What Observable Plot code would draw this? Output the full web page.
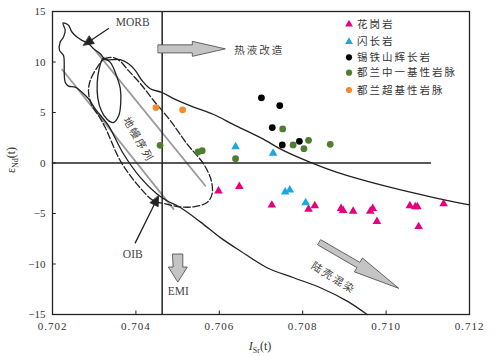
<!DOCTYPE html>
<html><head><meta charset="utf-8">
<script src="https://cdn.jsdelivr.net/npm/d3@7"></script>
<script src="https://cdn.jsdelivr.net/npm/@observablehq/plot@0.6"></script>
<style>
body{margin:0;background:#fff;}
#chart{width:497px;height:357px;}
g[aria-label="x-axis tick label"] text{letter-spacing:1px;}
</style></head><body><div id="chart"></div>
<script>
// ---- axis ticks
const xTicks = [0.702, 0.704, 0.706, 0.708, 0.710, 0.712];
const yTicks = [-15, -10, -5, 0, 5, 10, 15];

// ---- sample data (I_Sr(t), eps_Nd(t))
const graniteX = [0.70598,0.70648,0.70726,0.70814,0.70829,0.70892,0.70897,0.70921,0.70962,0.70968,0.70978,0.71057,0.71070,0.71075,0.71078,0.71138];
const graniteY = [-2.78,-2.32,-4.17,-4.57,-4.24,-4.50,-4.70,-4.77,-4.77,-4.50,-5.80,-4.24,-4.34,-4.34,-6.30,-4.04];
const dioriteX = [0.70639,0.70729,0.70758,0.70769,0.70807];
const dioriteY = [1.62,0.96,-2.88,-2.68,-3.94];
const gabbroX = [0.70701,0.70745,0.70727,0.70751,0.70792];
const gabbroY = [6.45,5.69,3.51,1.79,2.15];
const dykeX = [0.70458,0.70549,0.70559,0.70639,0.70752,0.70777,0.70803,0.70814,0.70866];
const dykeY = [1.75,1.09,1.22,0.43,3.37,1.79,1.42,2.25,1.85];
const ultraX = [0.70448,0.70512];
const ultraY = [5.49,5.26];

// ---- legend
const legendLabels = ["花岗岩","闪长岩","锡铁山辉长岩","都兰中一基性岩脉","都兰超基性岩脉"];
const legendColors = ["#e4007f","#1ea6e0","#000000","#4e7d33","#f28a2e"];
const legendSymbols = ["triangle","triangle","circle","circle","circle"];

// ---- reference fields (data units)
const envelope = [
  [0.709546,-15.0],[0.709066,-13.67],[0.708425,-12.35],[0.707784,-11.36],[0.707146,-10.37],
  [0.706505,-8.71],[0.706025,-7.39],[0.705545,-5.83],[0.705065,-4.41],[0.704746,-3.74],
  [0.704506,-3.08],[0.704105,-1.43],[0.703704,0.89],[0.703344,3.70],[0.703186,4.53],
  [0.703025,5.36],[0.702864,6.36],[0.702706,7.01],[0.702545,7.51],[0.702384,7.61],[0.702305,8.00],
  [0.702281,9.00],[0.702281,9.66],[0.702264,10.65],[0.702168,11.15],[0.702185,11.98],
  [0.702264,12.47],[0.702305,13.14],[0.702250,13.86],
  [0.702384,13.63],[0.702466,12.97],[0.702586,12.47],[0.702706,12.14],[0.702864,11.82],
  [0.702984,11.32],[0.703145,10.82],[0.703265,10.23],
  [0.703426,10.23],[0.703625,10.23],[0.703824,9.83],[0.703985,9.17],[0.704146,8.17],
  [0.704345,7.35],[0.704626,6.98],[0.704904,6.38],[0.705384,5.54],[0.705864,4.80],
  [0.706344,3.80],[0.706985,2.51],[0.707544,1.22],[0.708185,0.06],[0.708826,-0.93],
  [0.709944,-2.25],[0.711144,-3.42],[0.712000,-4.14]
];
const ellipse = [
  [0.703217,10.36],[0.703385,9.96],[0.703505,8.97],[0.703625,7.38],[0.703637,5.99],
  [0.703589,4.70],[0.703457,4.00],[0.703313,4.30],[0.703169,5.19],[0.703085,6.48],
  [0.703073,7.97],[0.703121,9.36]
];
const mantleLoop = [
  [0.703104,9.66],[0.703241,10.31],[0.703433,10.46],[0.703601,10.16],[0.703817,9.17],
  [0.704105,7.87],[0.704424,6.19],[0.704825,4.20],[0.705226,1.89],[0.705624,-0.10],
  [0.705809,-1.76],[0.705826,-3.08],[0.705706,-3.91],[0.705384,-4.34],[0.705065,-4.34],
  [0.704705,-4.04],[0.704424,-3.74],[0.704026,-2.09],[0.703625,0.23],[0.703265,3.51],
  [0.703104,4.70],[0.702946,5.69],[0.702864,7.01],[0.702905,8.17]
];
const grayLineA = [[0.702233,9.26],[0.704904,-4.57]];
const grayLineB = [[0.703025,11.15],[0.705665,-2.25]];
const bseX = 0.70463;
const zeroLine = [[0.702,0],[0.711065,0]];

// ---- arrows
const morbShaft = [[0.703344,13.31],[0.702943,12.20]];
const morbHead = [[0.702744,11.65],[0.703003,11.83],[0.702883,12.57]];
const oibShaft = [[0.703985,-7.91],[0.704438,-4.14]];
const oibHead = [[0.704544,-3.25],[0.704534,-4.33],[0.704342,-3.94]];
const emiArrow = [[0.704885,-9.01],[0.705125,-9.01],[0.705125,-10.30],[0.705233,-10.30],[0.705005,-11.79],[0.704777,-10.30],[0.704885,-10.30]];
const hydroArrow = [[0.704537,11.70],[0.705353,11.70],[0.705353,12.05],[0.706145,11.30],[0.705353,10.56],[0.705353,10.90],[0.704537,10.90]];
const crustArrow = [[0.708437,-7.61],[0.709373,-9.84],[0.709433,-9.41],[0.710304,-12.41],[0.709241,-10.78],[0.709301,-10.36],[0.708365,-8.12]];

const pts = (xs, ys) => xs.map((x, i) => ({x, y: ys[i]}));
const P = {x: d => d[0], y: d => d[1]};
const serif = "'Liberation Serif','Times New Roman',serif";
const cjk = "'Noto Sans CJK SC',sans-serif";

const chart = Plot.plot({
  width: 497, height: 357,
  marginLeft: 52, marginRight: 28, marginTop: 11, marginBottom: 43,
  style: {fontFamily: serif, fontSize: "11px", color: "#333", background: "#fff"},
  x: {domain: [0.702, 0.712]},
  y: {domain: [-15, 15]},
  marks: [
    Plot.axisX({ticks: xTicks, tickSize: 0, tickPadding: 8, tickFormat: d3.format(".3f"), label: null}),
    Plot.axisY({ticks: yTicks, tickSize: 0, tickPadding: 7, label: null}),
    Plot.ruleX(xTicks, {y1: -15, y2: -14.65, stroke: "#222"}),
    Plot.ruleY(yTicks, {x1: 0.702, x2: 0.70209, stroke: "#222"}),
    // fields
    Plot.line(grayLineA, {...P, stroke: "#9a9a9a", strokeWidth: 1.8}),
    Plot.line(grayLineB, {...P, stroke: "#9a9a9a", strokeWidth: 1.8}),
    Plot.line(mantleLoop, {...P, curve: "catmull-rom-closed", stroke: "#222", strokeWidth: 1.3, strokeDasharray: "7,2.5"}),
    Plot.line(ellipse, {...P, curve: "catmull-rom-closed", stroke: "#222", strokeWidth: 1.3}),
    Plot.line(envelope, {...P, curve: "catmull-rom", stroke: "#222", strokeWidth: 1.3}),
    Plot.ruleX([bseX], {stroke: "#222", strokeWidth: 1.5}),
    Plot.line(zeroLine, {...P, stroke: "#222", strokeWidth: 1.5}),
    // arrows
    Plot.line(morbShaft, {...P, stroke: "#222", strokeWidth: 1.3}),
    Plot.line(morbHead, {...P, curve: "linear-closed", fill: "#222", stroke: "#222", strokeWidth: 0.8}),
    Plot.line(oibShaft, {...P, stroke: "#222", strokeWidth: 1.3}),
    Plot.line(oibHead, {...P, curve: "linear-closed", fill: "#222", stroke: "#222", strokeWidth: 0.8}),
    Plot.line(emiArrow, {...P, curve: "linear-closed", fill: "#c4c4c4", stroke: "#444", strokeWidth: 0.8}),
    Plot.line(hydroArrow, {...P, curve: "linear-closed", fill: "#c4c4c4", stroke: "#444", strokeWidth: 0.8}),
    Plot.line(crustArrow, {...P, curve: "linear-closed", fill: "#c4c4c4", stroke: "#444", strokeWidth: 0.8}),
    // labels
    Plot.text(["MORB"], {x: 0.703925, y: 13.93, fontFamily: serif, fontSize: 11.5, fill: "#444"}),
    Plot.text(["OIB"], {x: 0.703925, y: -9.01, fontFamily: serif, fontSize: 11.5, fill: "#444"}),
    Plot.text(["EMI"], {x: 0.705017, y: -12.73, fontFamily: serif, fontSize: 11.5, fill: "#444"}),
    Plot.text(["热液改造"], {x: 0.706361, y: 11.15, textAnchor: "start", fontFamily: cjk, fontSize: 10.5, fill: "#444"}),
    Plot.text(["地幔序列"], {x: 0.704057, y: 2.31, rotate: 60, fontFamily: cjk, fontSize: 10.5, fill: "#444"}),
    Plot.text(["陆壳混染"], {x: 0.708737, y: -11.39, rotate: 32, fontFamily: cjk, fontSize: 10.5, fill: "#444"}),
    // samples
    Plot.dot(pts(graniteX, graniteY), {x: "x", y: "y", symbol: "triangle", r: 3.2, fill: legendColors[0]}),
    Plot.dot(pts(dioriteX, dioriteY), {x: "x", y: "y", symbol: "triangle", r: 3.2, fill: legendColors[1]}),
    Plot.dot(pts(gabbroX, gabbroY), {x: "x", y: "y", r: 3.4, fill: legendColors[2]}),
    Plot.dot(pts(dykeX, dykeY), {x: "x", y: "y", r: 3.4, fill: legendColors[3]}),
    Plot.dot(pts(ultraX, ultraY), {x: "x", y: "y", r: 3.4, fill: legendColors[4]}),
    Plot.frame({stroke: "#222", strokeWidth: 1.3})
  ]
});
document.getElementById("chart").append(chart);

const svg = d3.select(chart);
svg.selectAll("text").filter(function() { return /[\u4e00-\u9fff]/.test(this.textContent); })
  .style("letter-spacing", "2px");

// axis titles
const yl = svg.append("text").attr("transform", "translate(15,160) rotate(-90)")
  .attr("text-anchor", "middle").attr("font-family", serif).attr("font-size", 12).attr("fill", "#333");
yl.append("tspan").text("ε");
yl.append("tspan").attr("font-size", 8).attr("dy", 3).text("Nd");
yl.append("tspan").attr("dy", -3).text("(t)");
const xl = svg.append("text").attr("transform", "translate(260,350)")
  .attr("text-anchor", "middle").attr("font-family", serif).attr("font-size", 12).attr("fill", "#333");
xl.append("tspan").attr("font-style", "italic").text("I");
xl.append("tspan").attr("font-size", 8).attr("dy", 3).text("Sr");
xl.append("tspan").attr("dy", -3).text("(t)");

// legend
const rowY = [24.3, 41.7, 57.3, 72.7, 90];
const lg = svg.append("g").attr("text-anchor", "start");
legendLabels.forEach((lab, i) => {
  const sym = legendSymbols[i] === "triangle" ? d3.symbolTriangle : d3.symbolCircle;
  lg.append("path").attr("d", d3.symbol(sym, legendSymbols[i] === "triangle" ? 26 : 30)())
    .attr("transform", `translate(349,${rowY[i]})`).attr("fill", legendColors[i]);
  lg.append("text").attr("x", 357).attr("y", rowY[i]).attr("dy", "0.35em")
    .attr("text-anchor", "start")
    .attr("font-family", cjk).attr("font-size", 10.5).attr("fill", "#333")
    .style("letter-spacing", "2px").text(lab);
});
</script></body></html>
